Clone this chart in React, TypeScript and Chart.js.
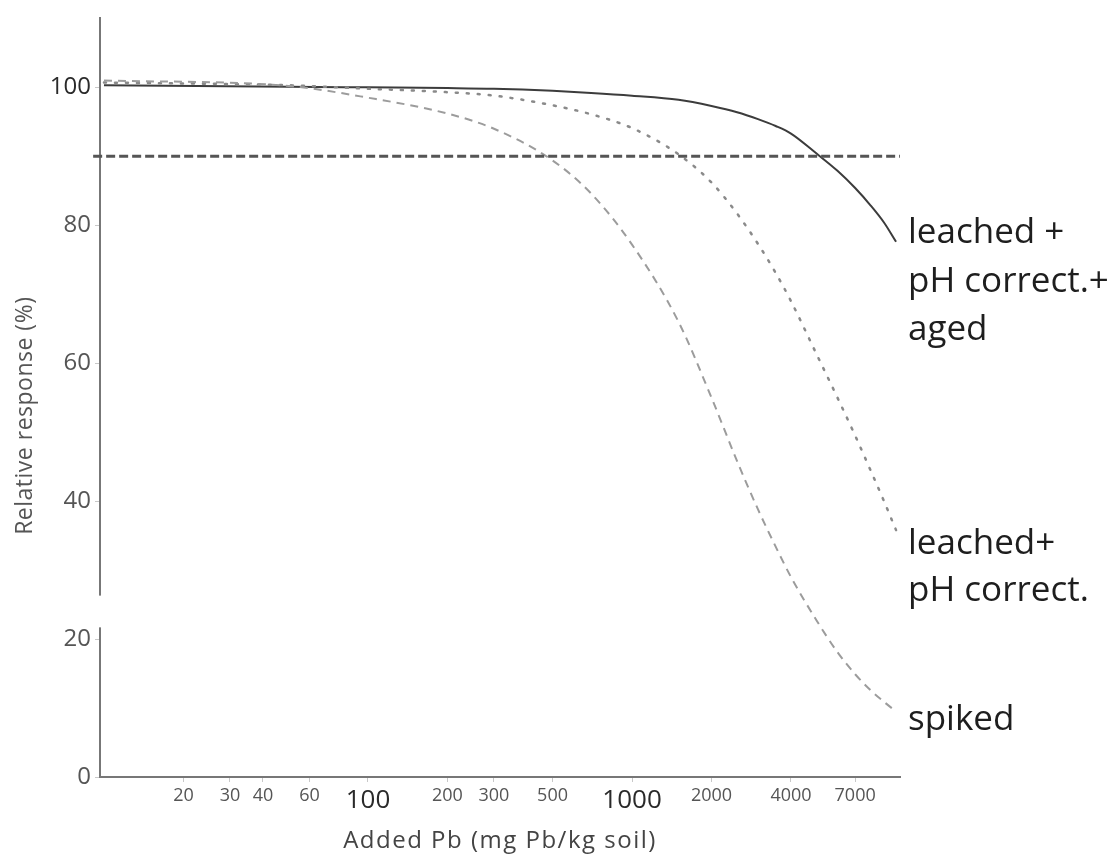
import React, { useEffect, useRef } from "react";
import { Chart, registerables } from "chart.js";

Chart.register(...registerables);

// ---- data ----
const xValues = [10, 50, 100, 200, 300, 500, 700, 1000, 1500, 2000, 2500, 3000, 3500, 4000, 5000, 6000, 7000, 8000, 9000, 10000];
const agedValues = [100.3, 100.1, 100.0, 99.9, 99.8, 99.5, 99.2, 98.8, 98.2, 97.3, 96.4, 95.4, 94.4, 93.3, 90.4, 87.9, 85.4, 82.9, 80.4, 77.6];
const leachedValues = [100.7, 100.3, 99.8, 99.3, 98.8, 97.4, 96.1, 94.1, 90.3, 86.2, 81.7, 77.3, 73.1, 69.0, 61.3, 55.0, 49.5, 44.5, 40.0, 35.8];
const spikedValues = [101.0, 100.2, 98.5, 96.2, 94.0, 89.4, 84.6, 77.2, 66.0, 55.0, 45.8, 38.8, 33.4, 29.0, 22.7, 18.1, 14.9, 12.6, 10.9, 9.5];
const thresholdValue = 90;
const thresholdStart = 9.1;

const xTickValues = [20, 30, 40, 60, 100, 200, 300, 500, 1000, 2000, 4000, 7000];
const xMajorTicks = [100, 1000];
const yTickValues = [0, 20, 40, 60, 80, 100];
const xMin = 9.66;
const xMax = 10350;
const yMin = 0;
const yMax = 110;
const yBreakLow = 21.7;
const yBreakHigh = 26.3;

const labelTexts = ["leached +", "pH correct.+", "aged", "leached+", "pH correct.", "spiked"];
const labelBaselines = [77.4, 70.3, 63.4, 32.3, 25.5, 6.8];

const xTitle = "Added Pb (mg Pb/kg soil)";
const yTitle = "Relative response (%)";

const FONT = "'Open Sans', 'Noto Sans', sans-serif";

const toPoints = (ys: number[]) => xValues.map((x, i) => ({ x, y: ys[i] }));

const axisBreakPlugin = {
  id: "axisBreak",
  afterDraw(chart: any) {
    const y = chart.scales.y;
    const ctx = chart.ctx;
    const top = y.getPixelForValue(yBreakHigh);
    const bot = y.getPixelForValue(yBreakLow);
    ctx.save();
    ctx.fillStyle = "#ffffff";
    ctx.fillRect(chart.chartArea.left - 5, top, 10, bot - top);
    ctx.restore();
  },
};

const textPlugin = {
  id: "texts",
  afterDraw(chart: any) {
    const y = chart.scales.y;
    const ctx = chart.ctx;
    const area = chart.chartArea;
    ctx.save();
    // side labels
    ctx.fillStyle = "#1e1e1e";
    ctx.font = `35px ${FONT}`;
    ctx.textAlign = "left";
    ctx.textBaseline = "alphabetic";
    labelTexts.forEach((t, i) => {
      ctx.fillText(t, area.right + 8, y.getPixelForValue(labelBaselines[i]));
    });
    // x title
    ctx.fillStyle = "#444444";
    ctx.font = `24px ${FONT}`;
    ctx.textAlign = "center";
    ctx.textBaseline = "middle";
    (ctx as any).letterSpacing = "1.5px";
    ctx.fillText(xTitle, (area.left + area.right) / 2, chart.height - 18);
    // y title
    ctx.fillStyle = "#555555";
    ctx.font = `23px ${FONT}`;
    (ctx as any).letterSpacing = "0.5px";
    ctx.translate(25, (area.top + area.bottom) / 2 + 18);
    ctx.rotate(-Math.PI / 2);
    ctx.fillText(yTitle, 0, 0);
    ctx.restore();
  },
};

export default function App() {
  const ref = useRef<HTMLCanvasElement | null>(null);

  useEffect(() => {
    document.body.style.margin = "0";
    if (!ref.current) return;
    const chart = new Chart(ref.current, {
      type: "scatter",
      data: {
        datasets: [
          {
            label: "threshold",
            data: [
              { x: thresholdStart, y: thresholdValue },
              { x: xMax, y: thresholdValue },
            ],
            showLine: true,
            borderColor: "#555555",
            borderWidth: 3,
            borderDash: [9, 4],
            pointRadius: 0,
            clip: false,
          },
          {
            label: "spiked",
            data: toPoints(spikedValues),
            showLine: true,
            borderColor: "#9c9c9c",
            borderWidth: 2,
            borderDash: [8, 6],
            pointRadius: 0,
            cubicInterpolationMode: "monotone",
          },
          {
            label: "leached+ pH correct.",
            data: toPoints(leachedValues),
            showLine: true,
            borderColor: "#8a8a8a",
            borderWidth: 2.5,
            borderDash: [2, 9],
            borderCapStyle: "round",
            pointRadius: 0,
            cubicInterpolationMode: "monotone",
          },
          {
            label: "leached + pH correct.+ aged",
            data: toPoints(agedValues),
            showLine: true,
            borderColor: "#3c3c3c",
            borderWidth: 2,
            pointRadius: 0,
            cubicInterpolationMode: "monotone",
          },
        ],
      },
      options: {
        responsive: false,
        animation: false,
        layout: { padding: { left: 0, right: 217, top: 17, bottom: 0 } },
        plugins: {
          legend: { display: false },
          tooltip: { enabled: false },
        },
        scales: {
          x: {
            type: "logarithmic",
            min: xMin,
            max: xMax,
            afterBuildTicks: (s: any) => {
              s.ticks = xTickValues.map((v) => ({ value: v, major: false }));
            },
            afterFit: (s: any) => {
              s.height = 82;
            },
            ticks: {
              autoSkip: false,
              maxRotation: 0,
              padding: 3,
              callback: (v: any) => String(v),
              font: (ctx: any) => ({
                family: FONT,
                size: xMajorTicks.includes(ctx.tick?.value) ? 26 : 18,
              }),
              color: (ctx: any) => (xMajorTicks.includes(ctx.tick?.value) ? "#2a2a2a" : "#555555"),
            },
            grid: {
              drawOnChartArea: false,
              drawTicks: true,
              tickLength: 5,
              color: "#c8c8c8",
            },
            border: { display: true, color: "#777777", width: 2 },
            title: { display: false },
          },
          y: {
            type: "linear",
            min: yMin,
            max: yMax,
            afterBuildTicks: (s: any) => {
              s.ticks = yTickValues.map((v) => ({ value: v }));
            },
            afterFit: (s: any) => {
              s.width = 100;
            },
            ticks: {
              padding: 4,
              font: { family: FONT, size: 24 },
              color: (ctx: any) => (ctx.tick?.value === 100 ? "#2a2a2a" : "#555555"),
            },
            grid: {
              drawOnChartArea: false,
              drawTicks: true,
              tickLength: 5,
              color: "#c8c8c8",
            },
            border: { display: true, color: "#777777", width: 2 },
            title: { display: false },
          },
        },
      } as any,
      plugins: [axisBreakPlugin, textPlugin],
    });
    return () => chart.destroy();
  }, []);

  return (
    <div style={{ width: 1117, height: 859, background: "#fff" }}>
      <canvas ref={ref} width={1117} height={859} />
    </div>
  );
}
